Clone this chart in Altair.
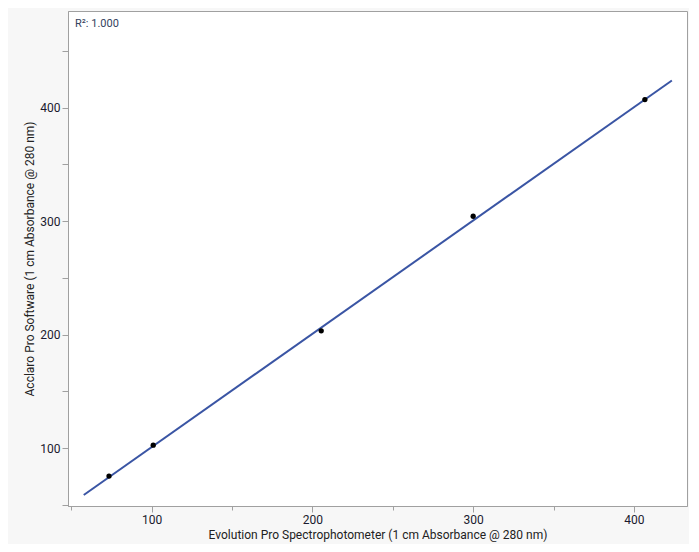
import altair as alt
import pandas as pd

evolution = [73.5, 101.0, 205.5, 300.0, 406.8]
acclaro = [75.4, 102.6, 203.3, 304.2, 407.0]

# fitted line end points
fit_x = [57.8, 423.6]
fit_y = [58.7, 423.8]

x_ticks = [50, 100, 150, 200, 250, 300, 350, 400]
y_ticks = [50, 100, 150, 200, 250, 300, 350, 400, 450]

FONT = "Roboto"

points = pd.DataFrame({"x": evolution, "y": acclaro})
fit = pd.DataFrame({"x": fit_x, "y": fit_y})

major = "datum.value % 100 === 0"

x_enc = alt.X(
    "x:Q",
    title="Evolution Pro Spectrophotometer (1 cm Absorbance @ 280 nm)",
    scale=alt.Scale(domain=[48, 433], nice=False, zero=False),
    axis=alt.Axis(
        values=x_ticks,
        labelExpr=f"{major} ? datum.label : ''",
        tickSize={"condition": {"test": major, "value": 6}, "value": 4},
        grid=False,
        titlePadding=4,
    ),
)
y_enc = alt.Y(
    "y:Q",
    title="Acclaro Pro Software (1 cm Absorbance @ 280 nm)",
    scale=alt.Scale(domain=[49, 485], nice=False, zero=False),
    axis=alt.Axis(
        values=y_ticks,
        labelExpr=f"{major} ? datum.label : ''",
        tickSize=6,
        grid=False,
        titlePadding=3,
    ),
)

line = alt.Chart(fit).mark_line(color="#3a55a4", strokeWidth=2).encode(x=x_enc, y=y_enc)
dots = alt.Chart(points).mark_circle(color="black", size=28, opacity=1).encode(x="x:Q", y="y:Q")
r2 = (
    alt.Chart(pd.DataFrame({"t": ["R²: 1.000"]}))
    .mark_text(align="left", baseline="middle", font=FONT, fontSize=11, color="#33415c")
    .encode(x=alt.value(7), y=alt.value(13), text="t:N")
)

chart = (
    alt.layer(line, dots, r2)
    .properties(
        width=619,
        height=495,
        background="#f7f7f7",
        padding={"left": 60, "top": 3, "right": 2, "bottom": 38},
        autosize=alt.AutoSizeParams(type="none"),
    )
    .configure_view(fill="white", stroke="#a0a0a0", strokeWidth=1)
    .configure_axis(
        domainColor="#a0a0a0",
        tickColor="#a0a0a0",
        labelColor="#1a1a2e",
        titleColor="#222222",
        labelFont=FONT,
        titleFont=FONT,
        labelFontSize=12,
        titleFontSize=12,
        titleFontWeight="normal",
        labelPadding=2,
    )
)

chart.save("out.html", embed_options={"renderer": "svg", "actions": False})
